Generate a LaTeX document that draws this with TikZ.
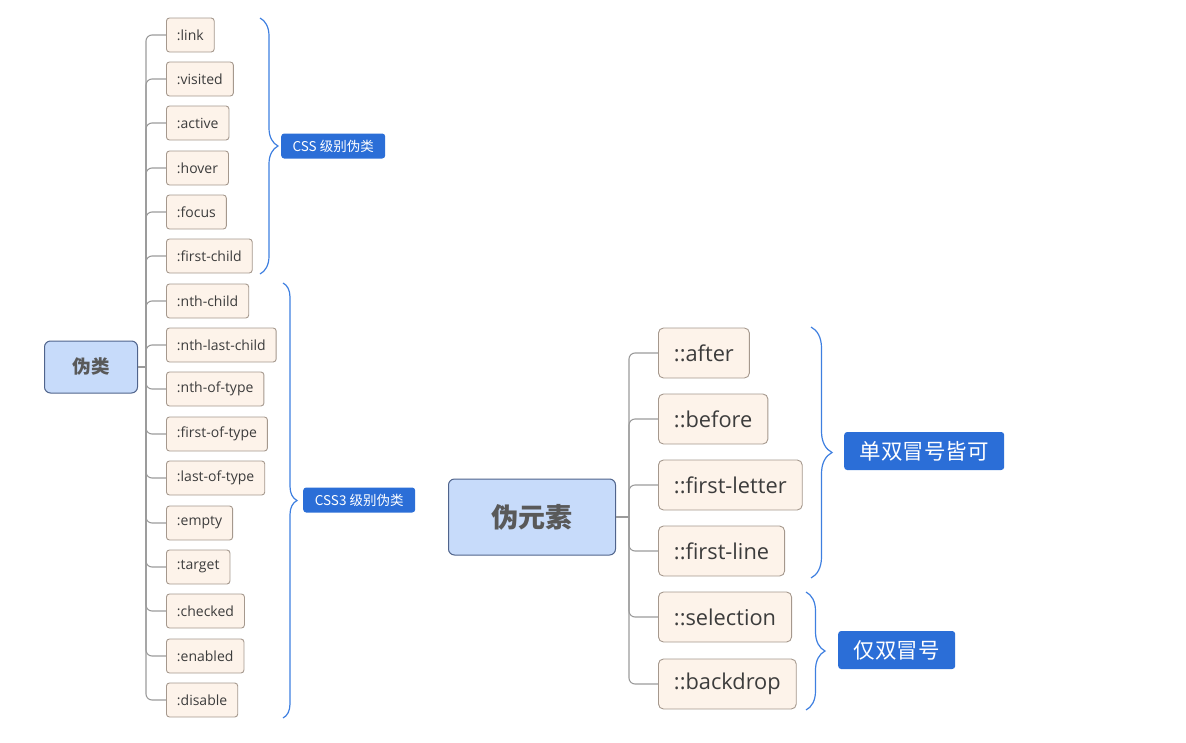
\documentclass[tikz,border=0pt]{standalone}
\usepackage{fontspec}
\setmainfont{Open Sans}
\newfontfamily\cjk{Noto Sans CJK SC}
\usetikzlibrary{decorations.pathreplacing}

\definecolor{leaffill}{RGB}{253,243,234}
\definecolor{leafline}{RGB}{165,152,141}
\definecolor{rootfill}{RGB}{199,219,250}
\definecolor{rootline}{RGB}{80,100,140}
\definecolor{tagblue}{RGB}{43,110,215}
\definecolor{braceblue}{RGB}{62,127,224}
\definecolor{connline}{RGB}{155,155,155}
\definecolor{txt}{RGB}{60,60,60}

\tikzset{
  leaf/.style={draw=leafline, line width=0.9pt, fill=leaffill, rounded corners=3pt, anchor=west,
    minimum height=34pt, inner xsep=10.5pt, text=txt, font=\fontsize{14}{16}\selectfont},
  bigleaf/.style={leaf, minimum height=50pt, inner xsep=15.5pt, rounded corners=5pt,
    font=\fontsize{21.8}{25}\selectfont},
  rootbox/.style={draw=rootline, line width=1pt, fill=rootfill, rounded corners=6pt, text=txt!85!white},
  tag/.style={fill=tagblue, text=white, rounded corners=3pt, anchor=west},
  conn/.style={draw=connline, line width=1.1pt, rounded corners=6pt},
  bracket/.style={draw=braceblue, line width=1.2pt, decorate}
}

\begin{document}
\begin{tikzpicture}[x=1pt, y=-1pt]

\useasboundingbox (0,0) rectangle (1186,742) ;

\node [rootbox, minimum width=93pt, minimum height=52pt, font=\cjk\bfseries\fontsize{18.5}{20}\selectfont] (pc) at (91,367) {伪类} ;

\node [leaf] (link) at (166,35) {:link} ;
\node [leaf] (visited) at (166,79) {:visited} ;
\node [leaf] (active) at (166,123) {:active} ;
\node [leaf] (hover) at (166,168) {:hover} ;
\node [leaf] (focus) at (166,212) {:focus} ;
\node [leaf] (firstchild) at (166,256) {:first-child} ;
\node [leaf] (nthchild) at (166,301) {:nth-child} ;
\node [leaf] (nthlast) at (166,345) {:nth-last-child} ;
\node [leaf] (nthoftype) at (166,389) {:nth-of-type} ;
\node [leaf] (firstoftype) at (166,434) {:first-of-type} ;
\node [leaf] (lastoftype) at (166,478) {:last-of-type} ;
\node [leaf] (empty) at (166,523) {:empty} ;
\node [leaf] (target) at (166,567) {:target} ;
\node [leaf] (checked) at (166,611) {:checked} ;
\node [leaf] (enabled) at (166,656) {:enabled} ;
\node [leaf] (disable) at (166,700) {:disable} ;

\coordinate (pcj) at ([xshift=8pt]pc.east) ;
\draw [conn] (pc.east) to (pcj) ;
\draw [conn] (pcj) |- (link.west) ;
\draw [conn] (pcj) |- (visited.west) ;
\draw [conn] (pcj) |- (active.west) ;
\draw [conn] (pcj) |- (hover.west) ;
\draw [conn] (pcj) |- (focus.west) ;
\draw [conn] (pcj) |- (firstchild.west) ;
\draw [conn] (pcj) |- (nthchild.west) ;
\draw [conn] (pcj) |- (nthlast.west) ;
\draw [conn] (pcj) |- (nthoftype.west) ;
\draw [conn] (pcj) |- (firstoftype.west) ;
\draw [conn] (pcj) |- (lastoftype.west) ;
\draw [conn] (pcj) |- (empty.west) ;
\draw [conn] (pcj) |- (target.west) ;
\draw [conn] (pcj) |- (checked.west) ;
\draw [conn] (pcj) |- (enabled.west) ;
\draw [conn] (pcj) |- (disable.west) ;

\draw [bracket, decoration={brace, amplitude=18pt}] (260,18) to (260,274) ;
\draw [bracket, decoration={brace, amplitude=14pt}] (283,283) to (283,718) ;

\node [tag, minimum width=104pt, minimum height=25pt, font=\cjk\fontsize{13.5}{15}\selectfont] (csstag) at (281,146) {CSS 级别伪类} ;
\node [tag, minimum width=112pt, minimum height=25pt, font=\cjk\fontsize{13.5}{15}\selectfont] (css3tag) at (303,500) {CSS3 级别伪类} ;

\node [rootbox, minimum width=167pt, minimum height=76pt, font=\cjk\bfseries\fontsize{27}{30}\selectfont] (pe) at (532,517) {伪元素} ;

\node [bigleaf] (after) at (658,353) {::after} ;
\node [bigleaf] (before) at (658,419) {::before} ;
\node [bigleaf] (firstletter) at (658,485) {::first-letter} ;
\node [bigleaf] (firstline) at (658,551) {::first-line} ;
\node [bigleaf] (selection) at (658,617) {::selection} ;
\node [bigleaf] (backdrop) at (658,684) {::backdrop} ;

\coordinate (pej) at ([xshift=13pt]pe.east) ;
\draw [conn] (pe.east) to (pej) ;
\draw [conn] (pej) |- (after.west) ;
\draw [conn] (pej) |- (before.west) ;
\draw [conn] (pej) |- (firstletter.west) ;
\draw [conn] (pej) |- (firstline.west) ;
\draw [conn] (pej) |- (selection.west) ;
\draw [conn] (pej) |- (backdrop.west) ;

\draw [bracket, decoration={brace, amplitude=21pt}] (811,327) to (811,578) ;
\draw [bracket, decoration={brace, amplitude=19pt}] (806,592) to (806,710) ;

\node [tag, minimum width=160pt, minimum height=38pt, font=\cjk\fontsize{21.5}{24}\selectfont] (bothtag) at (844,451) {单双冒号皆可} ;
\node [tag, minimum width=117pt, minimum height=38pt, font=\cjk\fontsize{21.5}{24}\selectfont] (doubletag) at (838,650) {仅双冒号} ;

\end{tikzpicture}
\end{document}
